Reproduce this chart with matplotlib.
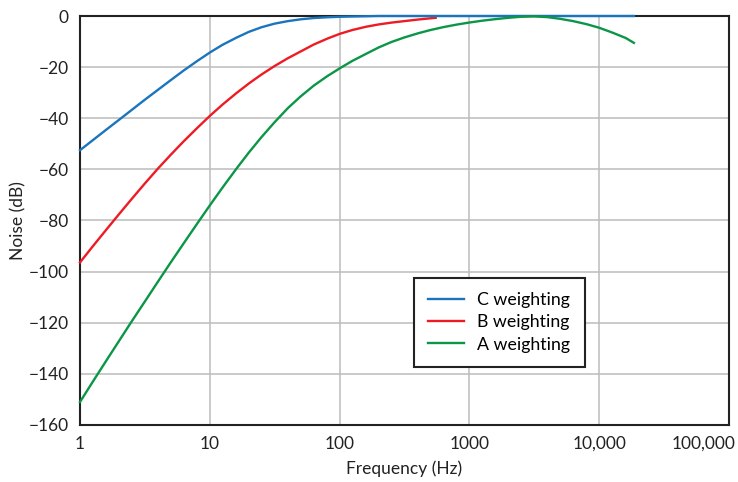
import matplotlib
matplotlib.use('Agg')
import matplotlib.pyplot as plt
from matplotlib.ticker import FixedLocator, NullLocator
from matplotlib.transforms import ScaledTranslation

# valori
freq_c = [1, 1.6, 2, 3.15, 5, 6.3, 8, 10, 12.5, 16, 20, 25, 31.5, 40, 50, 63,
          80, 100, 125, 160, 200, 18500]
c_weight = [-52.5, -44.4, -40.6, -32.8, -25.1, -21.3, -17.6, -14.3, -11.3,
            -8.5, -6.2, -4.4, -3.0, -2.0, -1.3, -0.8, -0.5, -0.3, -0.2, -0.1,
            0, 0]

freq_b = [1, 1.25, 1.6, 2, 2.5, 3.15, 4, 5, 6.3, 8, 10, 12.5, 16, 20, 25, 31.5,
          40, 50, 63, 80, 100, 125, 160, 200, 250, 315, 400, 500, 550]
b_weight = [-96.4, -90.2, -83.5, -77.5, -71.6, -65.6, -59.6, -54.3, -49.0,
            -43.8, -39.1, -34.7, -30.2, -26.4, -22.9, -19.6, -16.5, -13.9,
            -11.2, -8.9, -7.0, -5.5, -4.2, -3.3, -2.6, -2.0, -1.4, -0.9, -0.7]

freq_a = [1, 1.25, 1.6, 2, 2.5, 3.15, 4, 5, 6.3, 8, 10, 12.5, 16, 20, 25, 31.5,
          40, 50, 63, 80, 100, 125, 160, 200, 250, 315, 400, 500, 630, 800,
          1000, 1250, 1600, 2000, 2500, 3150, 4000, 5000, 6300, 8000, 10000,
          12500, 16000, 18500]
a_weight = [-151, -143.2, -134.7, -127.1, -119.5, -111.8, -103.8, -96.4, -88.9,
            -81.2, -74.1, -67.2, -59.8, -53.4, -47.4, -41.6, -36.0, -31.5,
            -27.3, -23.6, -20.5, -17.6, -14.8, -12.3, -10.2, -8.4, -6.8, -5.5,
            -4.35, -3.35, -2.55, -1.85, -1.2, -0.7, -0.3, -0.15, -0.45, -1.1,
            -2.0, -3.2, -4.6, -6.4, -8.6, -10.5]

x_ticks = [1, 10, 100, 1000, 10000, 100000]
x_labels = ['1', '10', '100', '1000', '10,000', '100,000']
y_ticks = [0, -20, -40, -60, -80, -100, -120, -140, -160]

plt.rcParams['font.family'] = ['Lato', 'DejaVu Sans']

fig = plt.figure(figsize=(7.38, 4.82), dpi=100)
ax = fig.add_axes([0.1084, 0.1183, 0.8794, 0.8485])

ax.plot(freq_b, b_weight, color='#ed1c24', lw=1.7, label='B weighting',
        zorder=3, clip_on=False)
ax.plot(freq_c, c_weight, color='#1a75bc', lw=1.7, label='C weighting',
        zorder=4, clip_on=False)
ax.plot(freq_a, a_weight, color='#0b9647', lw=1.7, label='A weighting',
        zorder=5, clip_on=False)

ax.set_xscale('log')
ax.set_xlim(1, 100000)
ax.set_ylim(-160, 0)
ax.xaxis.set_major_locator(FixedLocator(x_ticks))
ax.xaxis.set_minor_locator(NullLocator())
ax.set_xticklabels(x_labels)
ax.set_yticks(y_ticks)
ax.set_yticklabels([str(v).replace('-', '\u2212') for v in y_ticks])
ax.tick_params(length=0, labelsize=12.5, pad=8, colors='#222222')
ax.grid(True, color='#bcbcbc', lw=1.1)
ax.set_axisbelow(True)
for s in ax.spines.values():
    s.set_color('#222222')
    s.set_linewidth(1.5)

# ultima etichetta spostata a sinistra come nell'originale
last = ax.get_xticklabels()[-1]
last.set_ha('right')
last.set_transform(last.get_transform() + ScaledTranslation(0.07, 0, fig.dpi_scale_trans))

ax.set_xlabel('Frequency (Hz)', fontsize=12.5, color='#222222', labelpad=6)
ax.set_ylabel('Noise (dB)', fontsize=12.5, color='#222222')
ax.yaxis.set_label_coords(-0.083, 0.5)

h, l = ax.get_legend_handles_labels()
order = [1, 0, 2]
leg = ax.legend([h[i] for i in order], [l[i] for i in order],
                loc='lower left', bbox_to_anchor=(0.515, 0.142),
                borderaxespad=0, fontsize=12.8, fancybox=False, framealpha=1,
                edgecolor='#222222', handlelength=2.0, handletextpad=0.75,
                labelspacing=0.36, borderpad=0.8)
leg.get_frame().set_linewidth(1.5)

plt.savefig('out.png', dpi=100)
